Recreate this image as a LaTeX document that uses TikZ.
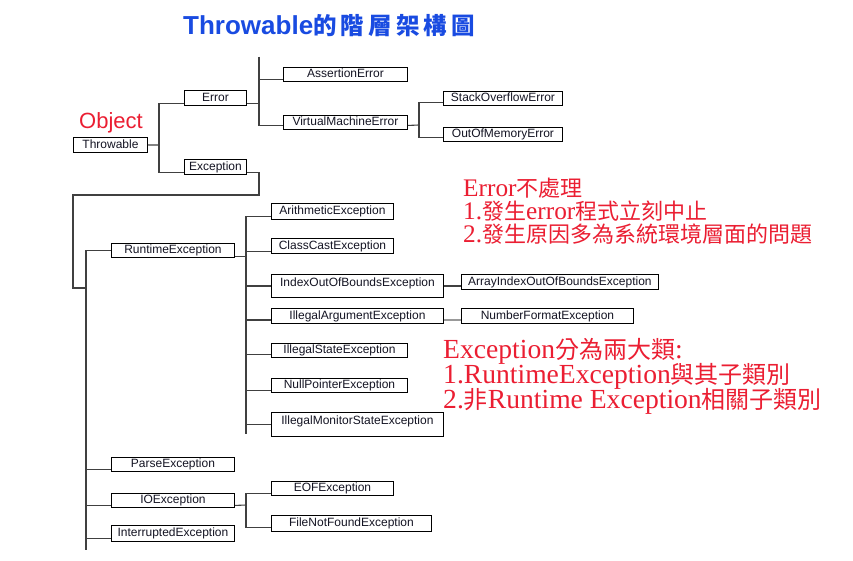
\documentclass[tikz,border=0pt]{standalone}
\usepackage{fontspec}
\setmainfont{Liberation Sans}
\newfontfamily\cjk{Noto Sans CJK TC}
\newfontfamily\redlat[Scale=1.15]{Liberation Serif}
\definecolor{titleblue}{RGB}{25,75,225}
\definecolor{notered}{RGB}{235,30,50}
\definecolor{labeltext}{RGB}{20,20,35}
\begin{document}
\begin{tikzpicture}[x=1pt,y=-1pt,
  box/.style={draw=black,line width=0.9pt,anchor=north west,inner xsep=0pt,inner ysep=0pt,
    text height=8.5pt,text depth=1.5pt,font=\fontsize{12}{12}\selectfont,text=labeltext},
  tallbox/.style={box,text depth=7.6pt},
  conn/.style={draw=black!75,line width=1.1pt},
  connlight/.style={draw=black!40,line width=1.1pt},
  redA/.style={anchor=base west,inner sep=0pt,text=notered,text height=15pt,text depth=2pt,font=\fontsize{22}{22}\redlat},
  redB/.style={anchor=base west,inner sep=0pt,text=notered,text height=16pt,text depth=2pt,font=\fontsize{24}{24}\redlat},
]
\useasboundingbox (0,0) rectangle (853,561);
\fill[white] (0,0) rectangle (853,561);

% title
\node[anchor=base west,inner sep=0pt,text=titleblue] (title) at (183,35)
  {\fontsize{26}{26}\selectfont\bfseries Throwable\fontsize{23.5}{23.5}\cjk\bfseries 的\hspace{4.2pt}階\hspace{4.2pt}層\hspace{4.2pt}架\hspace{4.2pt}構\hspace{4.2pt}圖};

\node[anchor=base west,inner sep=0pt,text=notered,font=\fontsize{22}{22}\selectfont] (object) at (79,129) {Object};

% boxes
\node[box,minimum width=74pt,minimum height=15pt] (thr) at (73,137) {Throwable};
\node[box,minimum width=62pt,minimum height=15pt] (err) at (184,90) {Error};
\node[box,minimum width=62pt,minimum height=15pt] (exc) at (184,159) {Exception};
\node[box,minimum width=124pt,minimum height=14pt] (ae) at (283,67) {AssertionError};
\node[box,minimum width=124pt,minimum height=14pt] (vme) at (283,115) {VirtualMachineError};
\node[box,minimum width=119pt,minimum height=14pt] (soe) at (443,91) {StackOverflowError};
\node[box,minimum width=119pt,minimum height=14pt] (oom) at (443,127) {OutOfMemoryError};
\node[box,minimum width=123pt,minimum height=14pt] (re) at (111,243) {RuntimeException};
\node[box,minimum width=122pt,minimum height=16pt] (ar) at (271,203) {ArithmeticException};
\node[box,minimum width=122pt,minimum height=15pt] (cc) at (271,238) {ClassCastException};
\node[tallbox,minimum width=172pt,minimum height=23pt] (ioob) at (271,274) {IndexOutOfBoundsException};
\node[box,minimum width=172pt,minimum height=15pt] (ia) at (271,308) {IllegalArgumentException};
\node[box,minimum width=136pt,minimum height=14pt] (is) at (271,343) {IllegalStateException};
\node[box,minimum width=136pt,minimum height=14pt] (np) at (271,378) {NullPointerException};
\node[tallbox,minimum width=172pt,minimum height=24pt] (ims) at (271,412) {IllegalMonitorStateException};
\node[box,minimum width=197pt,minimum height=15pt] (aioob) at (461,274) {ArrayIndexOutOfBoundsException};
\node[box,minimum width=172pt,minimum height=15pt] (nfe) at (461,308) {NumberFormatException};
\node[box,minimum width=123pt,minimum height=14pt] (pe) at (111,457) {ParseException};
\node[box,minimum width=123pt,minimum height=14pt] (io) at (111,493) {IOException};
\node[box,minimum width=122pt,minimum height=14pt] (eof) at (271,481) {EOFException};
\node[box,minimum width=160pt,minimum height=16pt] (fnf) at (271,515) {FileNotFoundException};
\node[box,minimum width=123pt,minimum height=16pt] (int) at (111,525) {InterruptedException};

% bus coordinates
\coordinate (b1) at (159,145);
\coordinate (b2top) at (259,57);
\coordinate (b3) at (419,125);
\coordinate (x1) at (259,195);
\coordinate (x2) at (73,288);
\coordinate (mb) at (86,288);
\coordinate (mbbot) at (86,550);
\coordinate (rb) at (246,434);
\coordinate (iob) at (246,505);

% connectors
\draw[conn] (thr.east) -- (b1);
\draw[conn] ([yshift=-5.5pt]err.west) -| (b1) |- ([yshift=-5.5pt]exc.west);
\draw[conn] ([yshift=-5.5pt]err.east) -| (b2top);
\draw[conn] (b2top) |- ([yshift=-5pt]ae.west);
\draw[conn] (b2top) |- ([yshift=-3pt]vme.west);
\draw[conn] ([yshift=-3pt]vme.east) -- (b3);
\draw[conn] ([yshift=-4pt]soe.west) -| (b3) |- ([yshift=-3pt]oom.west);
\draw[conn] ([yshift=-5.5pt]exc.east) -| (x1) -| (x2) -- (mb);
\draw[conn] (re.west) -| (mbbot);
\draw[conn] ([yshift=-5pt]pe.west) -| (mbbot);
\draw[conn] ([yshift=-5pt]io.west) -| (mbbot);
\draw[conn] ([yshift=-5pt]int.west) -| (mbbot);
\draw[conn] ([yshift=-6pt]re.east) -| (rb);
\draw[conn] ([yshift=-5pt]ar.west) -| (rb);
\draw[conn] ([yshift=-5.5pt]cc.west) -| (rb);
\draw[conn] (ioob.west) -| (rb);
\draw[conn] ([yshift=-4pt]ia.west) -| (rb);
\draw[conn] ([yshift=-4pt]is.west) -| (rb);
\draw[conn] ([yshift=-5pt]np.west) -| (rb);
\draw[conn] (ims.west) -| (rb);
\draw[conn] (ioob.east) -- ([yshift=-4pt]aioob.west);
\draw[connlight] ([yshift=-4pt]ia.east) -- ([yshift=-4pt]nfe.west);
\draw[conn] ([yshift=-5pt]io.east) -- (iob);
\draw[conn] ([yshift=-5pt]eof.west) -| (iob) |- ([yshift=-4pt]fnf.west);

% notes
\node[redA] (n1) at (463,197) {Error{\cjk 不處理}};
\node[redA] (n2) at (463,219.5) {1.{\cjk 發生}error{\cjk 程式立刻中止}};
\node[redA] (n3) at (463,242) {2.{\cjk 發生原因多為系統環境層面的問題}};
\node[redB] (m1) at (443,358) {Exception{\cjk 分為兩大類}:};
\node[redB] (m2) at (443,383) {1.RuntimeException{\cjk 與其子類別}};
\node[redB] (m3) at (443,408) {2.{\cjk 非}Runtime Exception{\cjk 相關子類別}};
\end{tikzpicture}
\end{document}
